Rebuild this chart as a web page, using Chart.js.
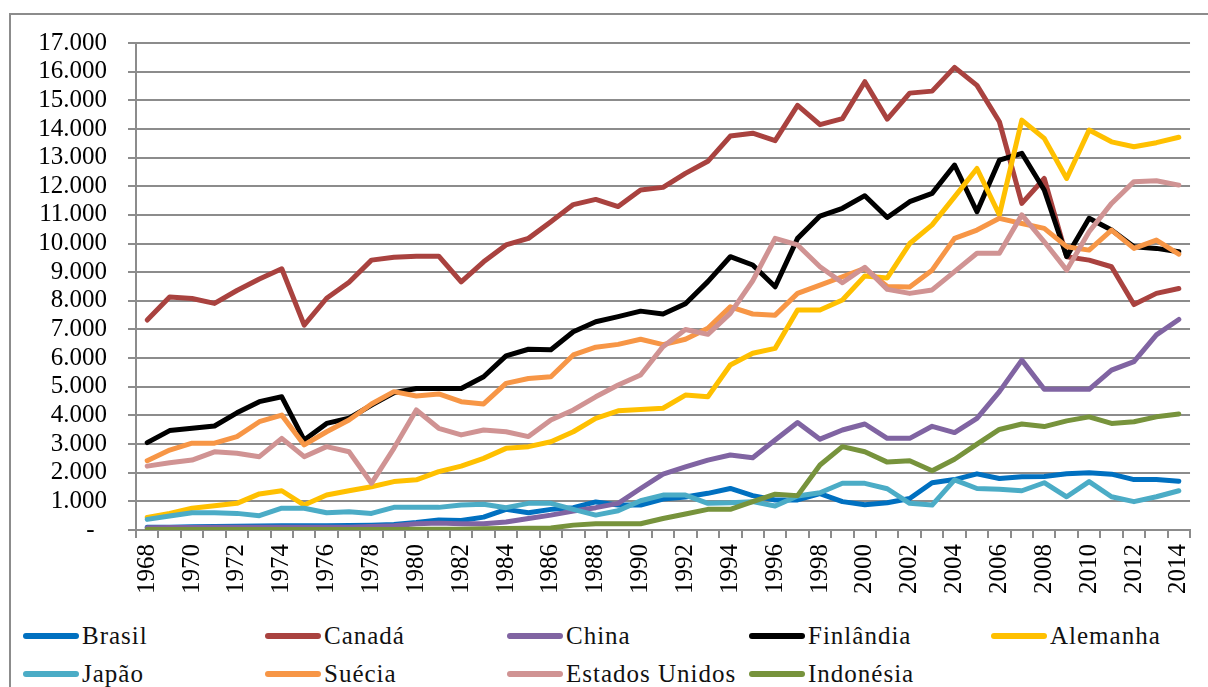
<!DOCTYPE html>
<html lang="pt">
<head>
<meta charset="UTF-8">
<title>Séries por país 1968-2014</title>
<script src="https://cdn.jsdelivr.net/npm/chart.js"></script>
<style>
  body { margin: 0; background: #fff; overflow: hidden; }
  .moldura { position: absolute; left: 9px; top: 13px; width: 1400px; height: 900px; border: 2px solid #8c8c8c; }
  .grafico { position: absolute; left: 0; top: 0; width: 1215px; height: 610px; }
  .legenda { position: absolute; left: 0; top: 0; font-family: 'Liberation Serif', Tinos, 'Times New Roman', 'DejaVu Serif', serif; font-size: 25px; color: #111; }
  .item { position: absolute; height: 30px; line-height: 30px; white-space: nowrap; }
  .item span.traco { position: absolute; left: 0; top: 12px; width: 56px; height: 6px; border-radius: 3px; }
  .item span.nome { position: absolute; left: 59px; top: 0; letter-spacing: 1px; }
</style>
</head>
<body>
<div class="moldura"></div>
<div class="grafico"><canvas id="grafico" width="1215" height="610"></canvas></div>
<div class="legenda" id="legenda"></div>

<script>
  // anos do eixo x
  const anos = ['1968','1969','1970','1971','1972','1973','1974','1975','1976','1977',
    '1978','1979','1980','1981','1982','1983','1984','1985','1986','1987',
    '1988','1989','1990','1991','1992','1993','1994','1995','1996','1997',
    '1998','1999','2000','2001','2002','2003','2004','2005','2006','2007',
    '2008','2009','2010','2011','2012','2013','2014'];

  const paises = ['Brasil', 'Canadá', 'China', 'Finlândia', 'Alemanha', 'Japão', 'Suécia', 'Estados Unidos', 'Indonésia'];
  const cores = ['#0070C0', '#A9423F', '#8064A2', '#000000', '#FFC000', '#4BACC6', '#F79646', '#D09393', '#77933C'];

  const brasil = [100, 100, 110, 120, 130, 140, 150, 150, 150, 160,
    170, 190, 260, 350, 330, 450, 720, 600, 720, 780,
    980, 870, 870, 1080, 1150, 1280, 1450, 1200, 1050, 1050,
    1270, 990, 880, 950, 1100, 1650, 1760, 1960, 1800, 1860,
    1870, 1960, 2000, 1950, 1760, 1760, 1700];
  const canada = [7330, 8130, 8080, 7910, 8360, 8760, 9120, 7150, 8090, 8650,
    9420, 9520, 9560, 9560, 8660, 9360, 9950, 10180, 10760, 11360,
    11540, 11290, 11870, 11960, 12450, 12870, 13750, 13850, 13590, 14820,
    14150, 14360, 15650, 14340, 15250, 15320, 16150, 15520, 14250, 11400,
    12270, 9540, 9420, 9190, 7870, 8260, 8430];
  const china = [80, 85, 90, 95, 100, 100, 100, 100, 100, 100,
    120, 150, 220, 240, 220, 220, 280, 400, 520, 660,
    780, 930, 1450, 1950, 2200, 2440, 2620, 2520, 3140, 3750,
    3170, 3490, 3700, 3200, 3200, 3620, 3400, 3900, 4830, 5930,
    4910, 4910, 4910, 5580, 5880, 6810, 7350];
  const finlandia = [3050, 3470, 3550, 3630, 4090, 4480, 4650, 3140, 3720, 3900,
    4360, 4790, 4940, 4940, 4940, 5350, 6080, 6310, 6290, 6920,
    7270, 7450, 7640, 7540, 7900, 8670, 9540, 9250, 8490, 10180,
    10960, 11230, 11670, 10910, 11460, 11750, 12740, 11110, 12910, 13150,
    11870, 9550, 10880, 10470, 9890, 9830, 9710];
  const alemanha = [440, 580, 760, 850, 930, 1260, 1370, 870, 1220, 1370,
    1510, 1690, 1750, 2040, 2230, 2500, 2850, 2910, 3080, 3430,
    3900, 4160, 4210, 4250, 4710, 4650, 5760, 6170, 6340, 7680,
    7680, 8030, 8870, 8800, 10000, 10650, 11630, 12620, 11000, 14310,
    13670, 12270, 13960, 13550, 13380, 13520, 13710];
  const japao = [370, 490, 600, 600, 580, 500, 760, 760, 600, 640,
    580, 790, 790, 790, 870, 900, 780, 930, 930, 720,
    520, 670, 1020, 1220, 1220, 930, 950, 990, 840, 1190,
    1300, 1630, 1630, 1440, 930, 870, 1750, 1450, 1420, 1370,
    1650, 1160, 1690, 1160, 990, 1160, 1370];
  const suecia = [2420, 2790, 3030, 3030, 3260, 3780, 4010, 2970, 3430, 3840,
    4400, 4830, 4680, 4750, 4480, 4400, 5120, 5290, 5350, 6110,
    6380, 6480, 6660, 6470, 6660, 7040, 7790, 7540, 7500, 8260,
    8550, 8840, 9130, 8500, 8480, 9070, 10180, 10470, 10880, 10700,
    10530, 9890, 9770, 10470, 9830, 10120, 9630];
  const eua = [2230, 2350, 2440, 2730, 2680, 2560, 3200, 2560, 2910, 2730,
    1630, 2850, 4190, 3550, 3320, 3490, 3430, 3260, 3840, 4190,
    4650, 5060, 5410, 6400, 7000, 6830, 7560, 8700, 10180, 9950,
    9190, 8630, 9170, 8400, 8260, 8380, 9020, 9660, 9660, 11000,
    10060, 9070, 10410, 11400, 12160, 12190, 12040];
  const indonesia = [20, 20, 20, 20, 20, 20, 20, 20, 20, 20,
    20, 20, 30, 30, 30, 40, 50, 60, 70, 170,
    220, 220, 220, 400, 560, 720, 720, 990, 1250, 1200,
    2270, 2910, 2730, 2370, 2420, 2070, 2470, 3000, 3510, 3700,
    3610, 3810, 3950, 3720, 3780, 3950, 4050];

  const valores = [brasil, canada, china, finlandia, alemanha, japao, suecia, eua, indonesia];

  const fonte = "'Liberation Serif', Tinos, 'Times New Roman', 'DejaVu Serif', serif";
  const cinza = '#8c8c8c';

  function milhar(v) {
    if (v === 0) return '-  ';
    return String(v).replace(/\B(?=(\d{3})+(?!\d))/g, '.');
  }

  const datasets = paises.map((nome, i) => ({
    label: nome,
    data: valores[i],
    borderColor: cores[i],
    backgroundColor: cores[i],
    borderWidth: 5,
    pointRadius: 0,
    tension: 0,
    borderJoinStyle: 'round',
    borderCapStyle: 'round',
    order: paises.length - 1 - i
  }));

  function desenhar() {
    new Chart(document.getElementById('grafico'), {
      type: 'line',
      data: { labels: anos, datasets: datasets },
      options: {
        responsive: false,
        animation: false,
        layout: { padding: { left: 0, top: 43, right: 18, bottom: 0 } },
        plugins: { legend: { display: false }, tooltip: { enabled: false } },
        scales: {
          x: {
            offset: true,
            afterFit: s => { s.height = 80; },
            border: { color: cinza, width: 2 },
            grid: { drawOnChartArea: false, color: cinza, lineWidth: 2, tickLength: 8, offset: true },
            ticks: {
              autoSkip: false, maxRotation: 90, minRotation: 90, padding: 6,
              color: '#000', font: { family: fonte, size: 25 },
              callback: function (v, i) { return i % 2 === 0 ? this.getLabelForValue(v) : ''; }
            }
          },
          y: {
            min: 0, max: 17000,
            afterFit: s => { s.width = 136; },
            border: { color: cinza, width: 2 },
            grid: { color: cinza, lineWidth: 2, tickLength: 8 },
            ticks: {
              stepSize: 1000, autoSkip: false, padding: 21,
              color: '#000', font: { family: fonte, size: 25, lineHeight: 1 },
              callback: v => milhar(v)
            }
          }
        }
      }
    });
  }

  // legenda em grade, 5 colunas
  const leg = document.getElementById('legenda');
  paises.forEach((nome, i) => {
    const col = i < 5 ? i : i - 5;
    const lin = i < 5 ? 0 : 1;
    const el = document.createElement('div');
    el.className = 'item';
    el.style.left = (23 + col * 242) + 'px';
    el.style.top = (621 + lin * 38) + 'px';
    el.innerHTML = '<span class="traco" style="background:' + cores[i] + '"></span><span class="nome">' + nome + '</span>';
    leg.appendChild(el);
  });

  if (document.fonts && document.fonts.load) {
    document.fonts.load("25px 'Liberation Serif'").then(desenhar, desenhar);
  } else {
    desenhar();
  }
</script>
</body>
</html>
